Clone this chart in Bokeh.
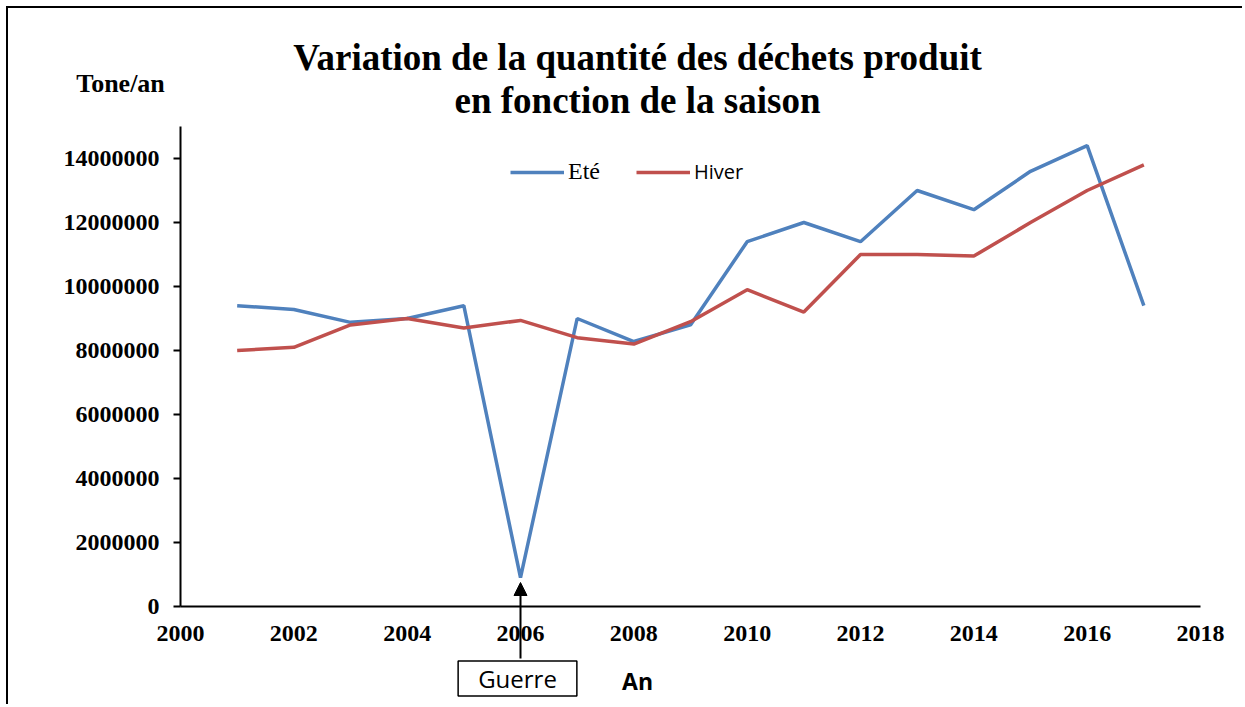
from bokeh.plotting import figure
from bokeh.models import (Legend, LegendItem, Label, Arrow, NormalHead, FixedTicker,
                          BasicTickFormatter, Range1d, LinearAxis)
from bokeh.embed import file_html
from bokeh.resources import INLINE

years = list(range(2001, 2018))
ete = [9400000, 9280000, 8880000, 9000000, 9400000, 900000, 9000000, 8280000, 8800000,
       11400000, 12000000, 11400000, 13000000, 12400000, 13600000, 14400000, 9400000]
hiver = [8000000, 8100000, 8800000, 9000000, 8700000, 8940000, 8400000, 8200000, 8900000,
         9900000, 9200000, 11000000, 11000000, 10950000, 12000000, 13000000, 13800000]
x_ticks = [2000, 2002, 2004, 2006, 2008, 2010, 2012, 2014, 2016, 2018]
y_ticks = [0, 2000000, 4000000, 6000000, 8000000, 10000000, 12000000, 14000000]

title_lines = ["Variation de la quantité des déchets produit", "en fonction de la saison"]

SERIF = "Liberation Serif"
SANS = "Open Sans"

# mapping helpers between page pixels and data (axis: 2000 at x=180, 2018 at x=1200;
# 0 at y=606, 1e6 per 32 px)
def v(py):
    return (606 - py) / 32 * 1e6

def yr(px):
    return 2000 + (px - 180) / (1020 / 18)

W, H = 1236, 698
p = figure(width=W, height=H, output_backend="svg", toolbar_location=None,
           x_axis_type=None, y_axis_type=None,
           x_range=Range1d(yr(8), yr(8 + W)), y_range=Range1d(v(8 + H), v(8)),
           min_border=0)
p.styles = {"margin-left": "6px", "margin-top": "6px",
            "border-left": "2px solid black", "border-top": "2px solid black"}
p.outline_line_color = None
p.background_fill_color = "white"

# axes fixed at the data origin
xax = LinearAxis(fixed_location=0, bounds=(2000, 2018), ticker=FixedTicker(ticks=x_ticks))
yax = LinearAxis(fixed_location=2000, bounds=(0, 15000000), ticker=FixedTicker(ticks=y_ticks),
                 formatter=BasicTickFormatter(use_scientific=False))
for ax in (xax, yax):
    ax.axis_line_color = "black"
    ax.axis_line_width = 2
    ax.major_label_text_font = SERIF
    ax.major_label_text_font_style = "bold"
    ax.major_label_text_font_size = "24px"
    ax.major_label_text_color = "black"
    ax.minor_tick_line_color = None
xax.major_tick_line_color = None
xax.major_label_standoff = 13
yax.major_tick_line_color = "black"
yax.major_tick_line_width = 2
yax.major_tick_out = 7
yax.major_tick_in = 0
yax.major_label_standoff = 14
p.add_layout(xax, "below")
p.add_layout(yax, "left")

r1 = p.line(years, ete, line_color="#4F81BD", line_width=3.5)
r2 = p.line(years, hiver, line_color="#C0504D", line_width=3.5)

# legends (two, since each entry uses its own font); location from frame bottom-left
for r, lab, font, fs, loc in ((r1, "Eté", SERIF, "24px", (502, 521)),
                              (r2, "Hiver", SANS, "20px", (628, 521))):
    lg = Legend(items=[LegendItem(label=lab, renderers=[r])], location=loc,
                orientation="horizontal", border_line_color=None, background_fill_alpha=0,
                padding=0, margin=0, glyph_width=54, glyph_height=20, label_standoff=4,
                label_text_font=font, label_text_font_size=fs, label_text_color="black")
    p.add_layout(lg, "center")

# title
for line, py in zip(title_lines, (57, 100)):
    p.add_layout(Label(x=yr(637), y=v(py), text=line, text_align="center",
                       text_baseline="middle", text_font=SERIF, text_font_style="bold",
                       text_font_size="37px", text_color="black"))
# y axis unit
p.add_layout(Label(x=yr(120), y=v(83), text="Tone/an", text_align="center",
                   text_baseline="middle", text_font=SERIF, text_font_style="bold",
                   text_font_size="26px", text_color="black"))
# x axis label
p.add_layout(Label(x=yr(637), y=v(680), text="An", text_align="center",
                   text_baseline="middle", text_font=SANS, text_font_style="bold",
                   text_font_size="23px", text_color="black"))
# war annotation
p.add_layout(Label(x=yr(517), y=v(678), text="Guerre", text_align="center",
                   text_baseline="middle", text_font=SANS, text_font_size="24px",
                   text_color="black", border_line_color="black", border_line_width=1.5,
                   background_fill_color="white", padding=[20, 1]))
p.add_layout(Arrow(end=NormalHead(size=13, fill_color="black", line_color="black"),
                   x_start=2006, y_start=v(658), x_end=2006, y_end=v(582),
                   line_color="black", line_width=2))

open("out.html", "w").write(file_html(p, INLINE))
